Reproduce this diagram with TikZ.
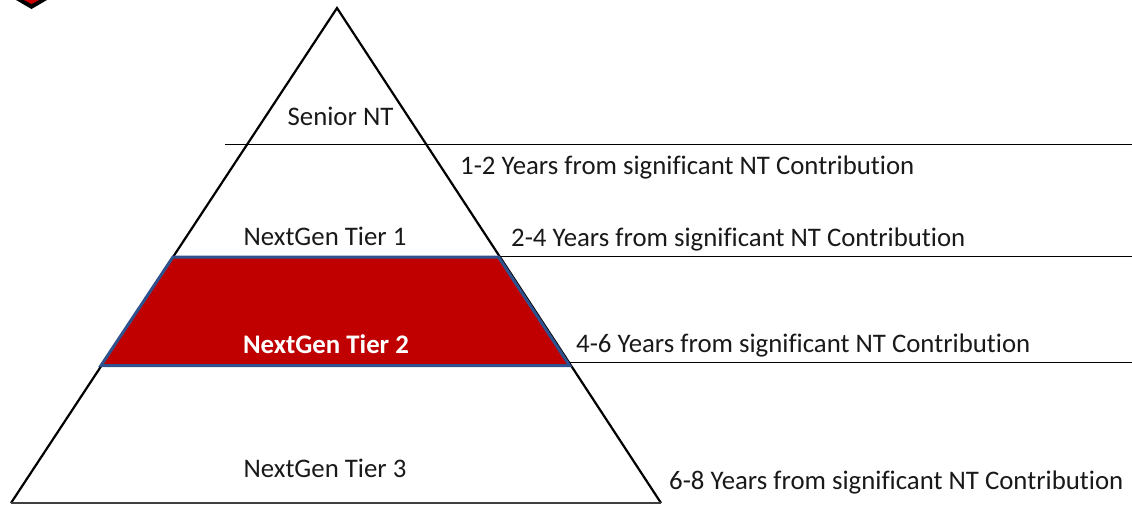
\documentclass[tikz,border=0pt]{standalone}
\usepackage{fontspec}
\setmainfont{Carlito}[Ligatures=NoCommon]
\definecolor{tierred}{RGB}{192,0,0}
\definecolor{tierblue}{RGB}{47,82,143}
\tikzset{
    tierlabel/.style={font=\fontsize{26.8}{30}\selectfont, text=black!90, inner sep=0pt},
    yearlabel/.style={tierlabel, anchor=west},
}
\begin{document}
\begin{tikzpicture}[x=1pt, y=-1pt]
        \useasboundingbox (0,0) rectangle (1132,504);

        % logo corner
        \fill[black] (16,0) -- (31.5,9) -- (47,0) -- cycle;
        \fill[red!80!black] (24,0) -- (31.5,4) -- (39,0) -- cycle;

        \coordinate (apex) at (337,8);
        \coordinate (baseL) at (11,503);
        \coordinate (baseR) at (661,503);
        \coordinate (topL) at (173,257);
        \coordinate (topR) at (498.5,257);
        \coordinate (botL) at (101,365.5);
        \coordinate (botR) at (569.5,365.5);
        \coordinate (seniorL) at (225,144);
        \coordinate (seniorR) at (1132,144);
        \coordinate (yearsA) at (500,256.5);
        \coordinate (tierA) at (1132,256.5);
        \coordinate (tierB) at (1132,362.5);
        \coordinate (tierBL) at (570,362.5);

        \draw[black, line width=2.2pt] (baseL) -- (apex) -- (baseR);
        \draw[black!75, line width=2pt] (baseL) -- (baseR);
        \draw[black, line width=0.9pt] (seniorL) -- (seniorR);
        \draw[black, line width=0.9pt] (yearsA) -- (tierA);
        \draw[black, line width=0.9pt] (tierBL) -- (tierB);

        \filldraw[fill=tierred, draw=tierblue, line width=3pt] (topL) -- (topR) -- (botR) -- (botL) -- cycle;

        \node[tierlabel] (senior) at (340.5,116) {Senior NT};
        \node[tierlabel] (tier1) at (325,236.5) {NextGen Tier 1};
        \node[tierlabel, text=white, font=\fontsize{26.8}{30}\selectfont\bfseries] (tier2) at (326,344) {NextGen Tier 2};
        \node[tierlabel] (tier3) at (325,468) {NextGen Tier 3};

        \node[yearlabel] (years1) at (460,167) {1-2 Years from significant NT Contribution};
        \node[yearlabel] (years2) at (511,239) {2-4 Years from significant NT Contribution};
        \node[yearlabel] (years3) at (576,345) {4-6 Years from significant NT Contribution};
        \node[yearlabel] (years4) at (669,482) {6-8 Years from significant NT Contribution};
    \end{tikzpicture}
\end{document}
